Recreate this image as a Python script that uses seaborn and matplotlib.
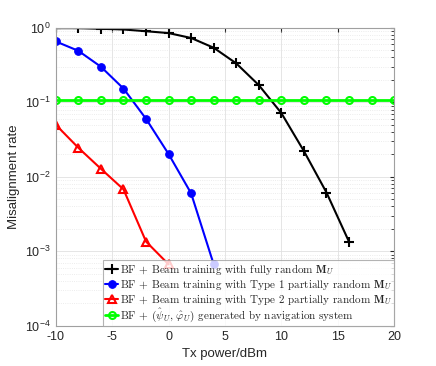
import numpy as np
import pandas as pd
import seaborn as sns
import matplotlib.pyplot as plt
from matplotlib.font_manager import FontProperties
from matplotlib.ticker import LogLocator, NullFormatter

# data
x_full = [-10, -8, -6, -4, -2, 0, 2, 4, 6, 8, 10, 12, 14, 16]
y_full = [0.99, 0.99, 0.97, 0.95, 0.90, 0.85, 0.73, 0.54, 0.333, 0.170, 0.0716, 0.0221, 0.00615, 0.00134]

x_type1 = [-10, -8, -6, -4, -2, 0, 2, 4]
y_type1 = [0.656, 0.491, 0.300, 0.153, 0.060, 0.0202, 0.00598, 0.000667]

x_type2 = [-10, -8, -6, -4, -2, 0]
y_type2 = [0.0499, 0.0245, 0.0128, 0.00678, 0.00135, 0.000667]

x_nav = [-10, -8, -6, -4, -2, 0, 2, 4, 6, 8, 10, 12, 14, 16, 18, 20]
y_nav = [0.107] * 16

labels = [
    r'BF + Beam training with fully random $\mathbf{M}_U$',
    r'BF + Beam training with Type 1 partially random $\mathbf{M}_U$',
    r'BF + Beam training with Type 2 partially random $\mathbf{M}_U$',
    r'BF + $(\hat{\psi}_U,\, \hat{\varphi}_U)$ generated by navigation system',
]

sns.set_style('white')
plt.rcParams['font.family'] = ['Liberation Sans', 'DejaVu Sans']

fig = plt.figure(figsize=(4.36, 3.66), dpi=100)
ax = fig.add_axes([0.128, 0.110, 0.776, 0.814])

sns.lineplot(x=x_full, y=y_full, ax=ax, color='black', marker='+', markersize=7,
             markeredgecolor='black', markeredgewidth=1.5, linewidth=1.5, label=labels[0])
sns.lineplot(x=x_type1, y=y_type1, ax=ax, color='blue', marker='o', markersize=5.5,
             markerfacecolor='blue', markeredgecolor='blue', linewidth=1.5, label=labels[1])
sns.lineplot(x=x_type2, y=y_type2, ax=ax, color='red', marker='^', markersize=6,
             markerfacecolor='none', markeredgecolor='red', markeredgewidth=1.5,
             linewidth=1.5, label=labels[2])
sns.lineplot(x=x_nav, y=y_nav, ax=ax, color='#00ff00', marker='o', markersize=5,
             markerfacecolor='none', markeredgecolor='#00ff00', markeredgewidth=1.5,
             linewidth=2, label=labels[3])

ax.set_yscale('log')
ax.set_xlim(-10, 20)
ax.set_ylim(1e-4, 1)
ax.set_xticks([-10, -5, 0, 5, 10, 15, 20])
ax.set_xticklabels(['-10', '-5', '0', '5', '10', '15', '20'])
ax.yaxis.set_major_locator(LogLocator(base=10, numticks=10))
ax.yaxis.set_minor_locator(LogLocator(base=10, subs=np.arange(2, 10), numticks=10))
ax.yaxis.set_minor_formatter(NullFormatter())

ax.grid(True, which='major', color='#e0e0e0', linewidth=0.6)
ax.grid(True, which='minor', axis='y', color='#e6e6e6', linestyle=':', linewidth=0.6)
ax.set_axisbelow(True)
ax.tick_params(which='both', direction='in', top=True, right=True, labelsize=9,
               colors='#262626', length=3)
ax.tick_params(which='minor', length=2)
for s in ax.spines.values():
    s.set_color('#a0a0a0')
    s.set_linewidth(0.8)

ax.set_xlabel('Tx power/dBm', fontsize=9.5)
ax.set_ylabel('Misalignment rate', fontsize=9.5)

prop = FontProperties(family='cmr10', size=8, math_fontfamily='cm')
leg = ax.legend(loc='lower right', prop=prop, frameon=True, fancybox=False,
                borderpad=0.15, labelspacing=0.0, handlelength=1.2,
                handletextpad=0.2, borderaxespad=0)
leg.get_frame().set_edgecolor('#a0a0a0')
leg.get_frame().set_linewidth(0.8)

fig.savefig('out.png', dpi=100)
